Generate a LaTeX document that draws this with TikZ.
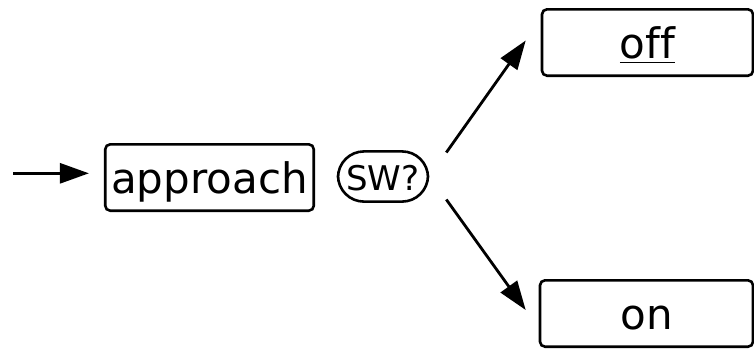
\documentclass[tikz,border=0pt]{standalone}
\usepackage{fontspec}
\setmainfont{DejaVu Sans}[Ligatures=NoCommon]
\usepackage{tikz}
\usetikzlibrary{arrows.meta, calc, positioning}
\tikzset{
    state/.style={draw, line width=1.3pt, rounded corners=2.5pt, inner ysep=0pt, text height=24.8pt, text depth=8.4pt, inner xsep=3pt, font=\fontsize{21}{24}\selectfont},
    guard/.style={draw, line width=1.3pt, rounded corners=13pt, minimum width=45pt, inner ysep=0pt, text height=19.3pt, text depth=5.8pt, inner xsep=1pt, font=\fontsize{17}{20}\selectfont},
    trans/.style={line width=1.4pt, -{Triangle[length=14.5pt,width=10pt]}}
}

\begin{document}
\begin{tikzpicture}[x=0.5pt, y=-0.5pt]
                        \useasboundingbox (0, 0) rectangle (754, 350);
                        \node[state] (approach) at (209.5, 177.5) {approach};
                        \node[guard] (sw) at (383, 176.5) {SW?};
                        \node[state, minimum width=105.5pt] (off) at (647.5, 42.5) {\underline{off}};
                        \node[state, minimum width=106.5pt] (on) at (646.5, 313.5) {on};

                        \coordinate (init) at (13, 173.3);
                        \coordinate (upstart) at ($(sw.east)+(17, -24)$);
                        \coordinate (downstart) at ($(sw.east)+(17, 23)$);

                        \draw
                        (init) edge[trans, shorten >=7.5pt] (init -| approach.west)
                        (upstart) edge[trans] ($(off.west)+(-15, -2)$)
                        (downstart) edge[trans] ($(on.west)+(-13, -3.5)$);
                    \end{tikzpicture}
\end{document}
